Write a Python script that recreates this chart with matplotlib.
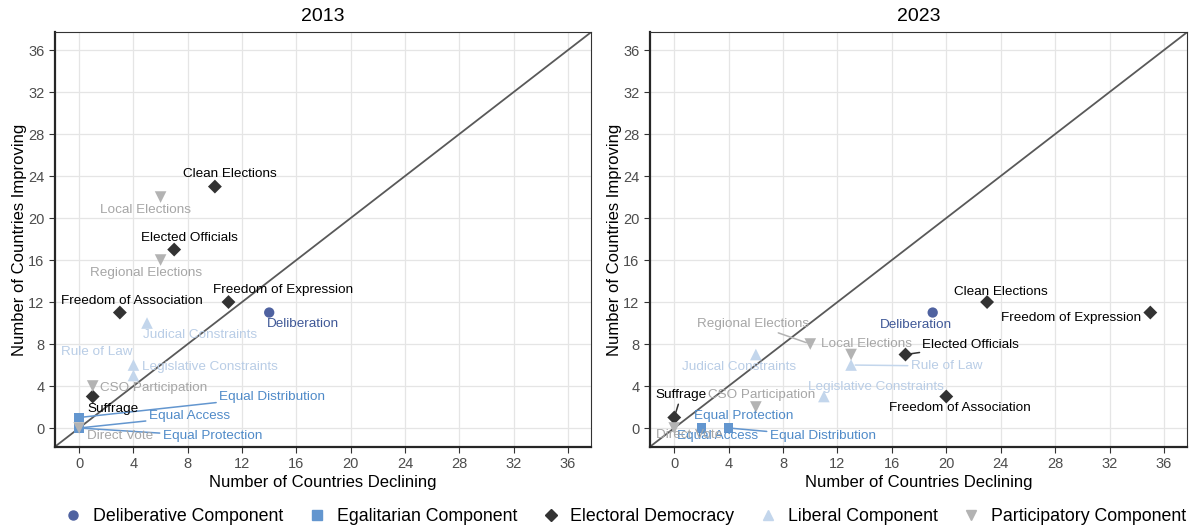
import numpy as np
import matplotlib.pyplot as plt
from matplotlib.lines import Line2D

plt.rcParams['font.family'] = ['Liberation Sans', 'DejaVu Sans']

# categories
groups = ['Deliberative Component', 'Egalitarian Component', 'Electoral Democracy',
          'Liberal Component', 'Participatory Component']
group_colors = ['#4f62a0', '#6396cf', '#333333', '#c3d6ec', '#b3b3b3']
label_colors = ['#3f5897', '#4f8ac8', '#000000', '#b9cde6', '#a6a6a6']
group_markers = ['o', 's', 'D', '^', 'v']
marker_sizes = [55, 45, 50, 70, 70]

indicators = ['Deliberation',
              'Equal Distribution', 'Equal Access', 'Equal Protection',
              'Clean Elections', 'Elected Officials', 'Freedom of Expression',
              'Freedom of Association', 'Suffrage',
              'Judical Constraints', 'Legislative Constraints', 'Rule of Law',
              'Local Elections', 'Regional Elections', 'CSO Participation', 'Direct Vote']
indicator_group = [0, 1, 1, 1, 2, 2, 2, 2, 2, 3, 3, 3, 4, 4, 4, 4]

# 2013 values
declining_2013 = [14, 0, 0, 0, 10, 7, 11, 3, 1, 5, 4, 4, 6, 6, 1, 0]
improving_2013 = [11, 1, 0, 0, 23, 17, 12, 11, 3, 10, 6, 5, 22, 16, 4, 0]

# 2023 values
declining_2023 = [19, 4, 2, 2, 23, 17, 35, 20, 0, 6, 11, 13, 13, 10, 6, 0]
improving_2023 = [11, 0, 0, 0, 12, 7, 11, 3, 1, 7, 3, 6, 7, 8, 2, 0]

# label placement (offset from the point, data units) and whether a segment is drawn
offsets_2013 = {
    'Deliberation': (2.5, -1.1), 'Equal Distribution': (14.2, 2.0), 'Equal Access': (8.1, 1.1),
    'Equal Protection': (9.8, -0.8), 'Clean Elections': (1.1, 1.2), 'Elected Officials': (1.1, 1.1),
    'Freedom of Expression': (4.0, 1.1), 'Freedom of Association': (0.9, 1.1), 'Suffrage': (1.5, -1.2),
    'Judical Constraints': (3.9, -1.1), 'Legislative Constraints': (5.6, -0.2), 'Rule of Law': (-2.7, 2.2),
    'Local Elections': (-1.1, -1.2), 'Regional Elections': (-1.1, -1.2), 'CSO Participation': (4.5, -0.2),
    'Direct Vote': (3.0, -0.8)}
segments_2013 = ['Equal Distribution', 'Equal Access', 'Equal Protection']

offsets_2023 = {
    'Deliberation': (-1.2, -1.2), 'Equal Distribution': (6.9, -0.8), 'Equal Access': (1.2, -0.8),
    'Equal Protection': (3.1, 1.1), 'Clean Elections': (1.0, 1.0), 'Elected Officials': (4.8, 0.9),
    'Freedom of Expression': (-5.8, -0.5), 'Freedom of Association': (1.0, -1.1), 'Suffrage': (0.5, 2.1),
    'Judical Constraints': (-1.2, -1.2), 'Legislative Constraints': (3.8, 0.9), 'Rule of Law': (7.0, -0.1),
    'Local Elections': (1.1, 1.0), 'Regional Elections': (-4.2, 1.9), 'CSO Participation': (0.4, 1.1),
    'Direct Vote': (1.1, -0.7)}
segments_2023 = ['Equal Distribution', 'Rule of Law', 'Suffrage', 'Elected Officials', 'Regional Elections']

ticks = np.arange(0, 37, 4)
lims = (-1.78, 37.7)


def draw_panel(ax, title, declining, improving, offsets, segments):
    ax.set_facecolor('white')
    ax.plot(lims, lims, color='#595959', lw=1.3, zorder=2)
    for g in range(len(groups)):
        idx = [i for i in range(len(indicators)) if indicator_group[i] == g]
        ax.scatter([declining[i] for i in idx], [improving[i] for i in idx],
                   marker=group_markers[g], s=marker_sizes[g], color=group_colors[g],
                   edgecolors='none', zorder=3)
    for i, name in enumerate(indicators):
        g = indicator_group[i]
        dx, dy = offsets[name]
        arrow = None
        if name in segments:
            arrow = dict(arrowstyle='-', color=group_colors[g], lw=1.1,
                         shrinkA=0, shrinkB=3)
        ax.annotate(name, xy=(declining[i], improving[i]),
                    xytext=(declining[i] + dx, improving[i] + dy),
                    ha='center', va='center', fontsize=9.7, color=label_colors[g],
                    arrowprops=arrow, zorder=4)
    ax.set_xlim(lims)
    ax.set_ylim(lims)
    ax.set_xticks(ticks)
    ax.set_yticks(ticks)
    ax.grid(True, color='#e5e5e5', lw=0.9)
    ax.set_axisbelow(True)
    ax.tick_params(labelsize=10.5, labelcolor='#4d4d4d', color='#333333', length=4)
    for side in ['top', 'right']:
        ax.spines[side].set_color('#333333')
        ax.spines[side].set_linewidth(0.8)
    for side in ['left', 'bottom']:
        ax.spines[side].set_color('#262626')
        ax.spines[side].set_linewidth(1.6)
    ax.set_title(title, fontsize=14, pad=8)
    ax.set_xlabel('Number of Countries Declining', fontsize=12, labelpad=3)
    ax.set_ylabel('Number of Countries Improving', fontsize=12, labelpad=1)


fig = plt.figure(figsize=(12, 5.29), dpi=100)
ax1 = fig.add_axes([0.0458, 0.1556, 0.4467, 0.7834])
ax2 = fig.add_axes([0.5417, 0.1556, 0.4475, 0.7834])
draw_panel(ax1, '2013', declining_2013, improving_2013, offsets_2013, segments_2013)
draw_panel(ax2, '2023', declining_2023, improving_2023, offsets_2023, segments_2023)

handles = [Line2D([], [], marker=group_markers[g], color=group_colors[g], ls='none',
                  markersize=7.5 if group_markers[g] in '^v' else 6.5)
           for g in range(len(groups))]
fig.legend(handles, groups, loc='center', bbox_to_anchor=(0.521, 0.024), ncol=5,
           frameon=False, fontsize=12.8, handletextpad=0.6, columnspacing=1.4,
           handlelength=1.0)

fig.savefig('out.png', dpi=100, facecolor='white')
